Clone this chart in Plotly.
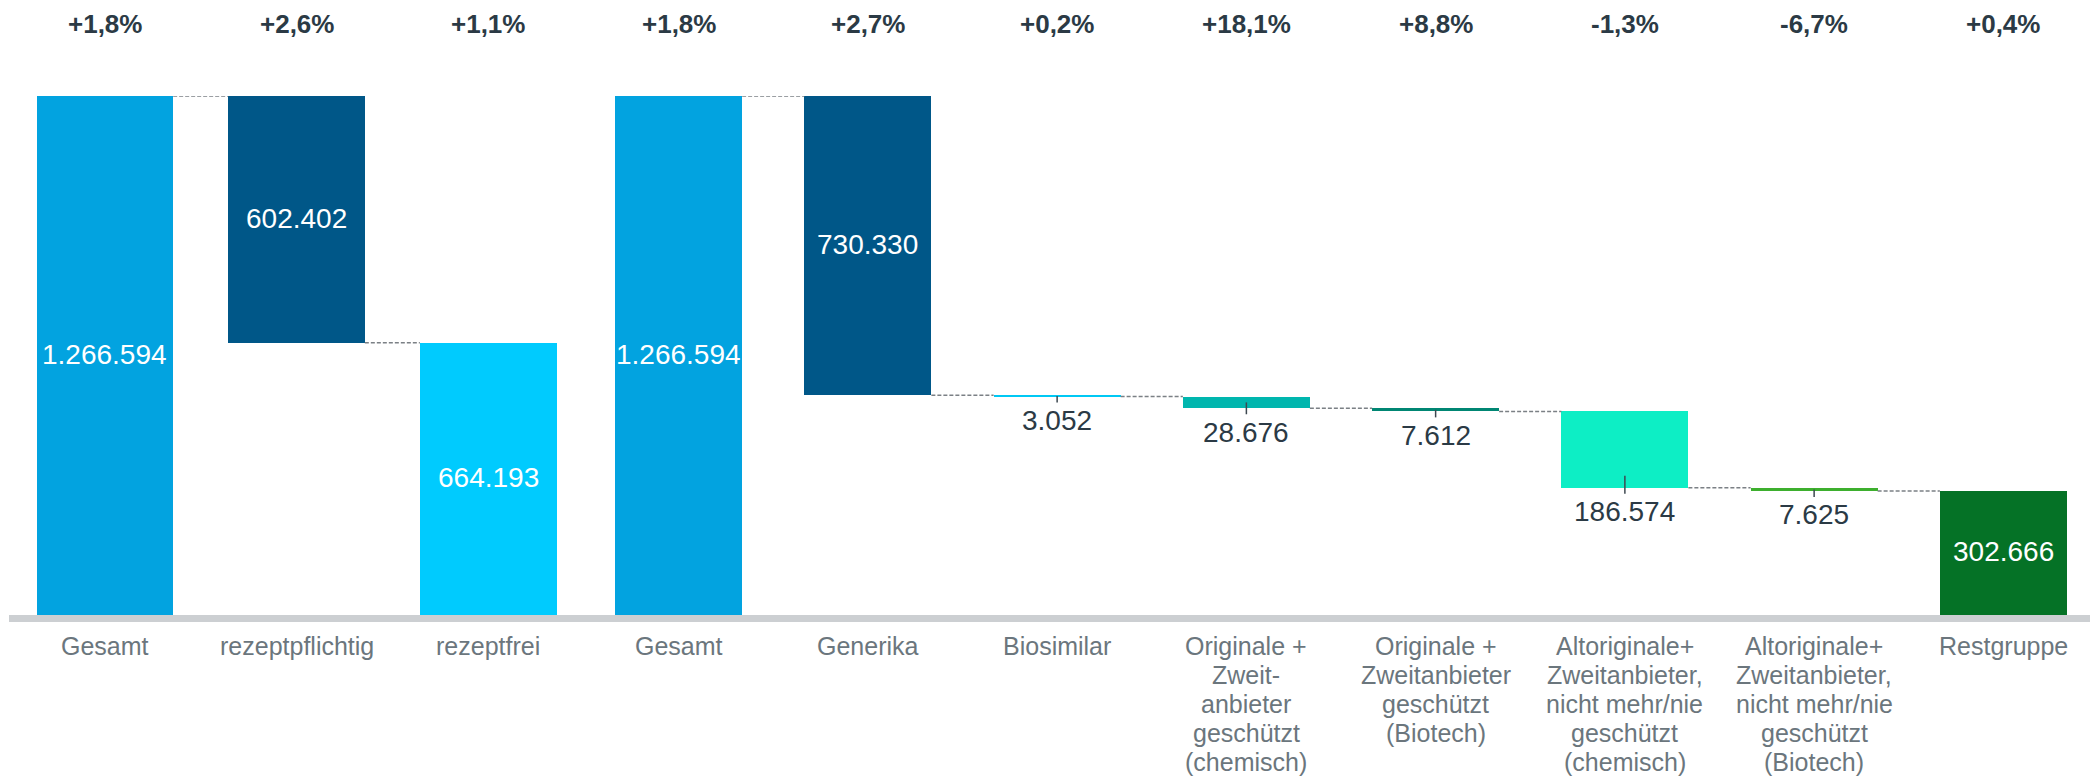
import plotly.graph_objects as go

# ---------------- data ----------------
left_categories = ["Gesamt", "rezeptpflichtig", "rezeptfrei"]
left_values = [1266594, 602402, 664193]
left_growth = ["+1,8%", "+2,6%", "+1,1%"]
left_kinds = ["total", "drop", "total"]

right_categories = [
    "Gesamt",
    "Generika",
    "Biosimilar",
    "Originale +<br>Zweit-<br>anbieter<br>geschützt<br>(chemisch)",
    "Originale +<br>Zweitanbieter<br>geschützt<br>(Biotech)",
    "Altoriginale+<br>Zweitanbieter,<br>nicht mehr/nie<br>geschützt<br>(chemisch)",
    "Altoriginale+<br>Zweitanbieter,<br>nicht mehr/nie<br>geschützt<br>(Biotech)",
    "Restgruppe",
]
right_values = [1266594, 730330, 3052, 28676, 7612, 186574, 7625, 302666]
right_growth = ["+1,8%", "+2,7%", "+0,2%", "+18,1%", "+8,8%", "-1,3%", "-6,7%", "+0,4%"]
right_kinds = ["total", "drop", "drop", "drop", "drop", "drop", "drop", "total"]

# ---------------- style ----------------
left_colors = ["#02A3E0", "#005788", "#00CBFE"]
right_colors = ["#02A3E0", "#005788", "#00C8F4", "#00B6AE", "#008673",
                "#0DEEC5", "#3DAF2E", "#057226"]
FONT = "Arial, Liberation Sans, sans-serif"
DARK = "#2B3A45"
GRAY = "#6B767D"
AXIS = "#CCCFD2"
# page has an 8px body margin, so the figure is drawn slightly smaller
W, H = 2090, 773
ML, MR, MT, MB = 1, 0, 88, 166
PLOT_W = W - ML - MR
PLOT_H = H - MT - MB
LEFT_FRAC = 575 / PLOT_W
YMAX = max(left_values + right_values)
PPU = PLOT_H / YMAX
INSIDE_MIN = 250000


def compute_bases(values, kinds):
    bases = []
    level = 0
    for v, k in zip(values, kinds):
        if k == "total":
            b = 0
            level = v
        else:
            b = level - v
            level = b
        bases.append(b)
    return bases


fig = go.Figure()
shapes = []
annotations = []


def add_group(cats, values, kinds, growth, colors, width, xref):
    bases = compute_bases(values, kinds)
    idx = list(range(len(cats)))
    fig.add_trace(go.Bar(
        x=idx, y=values, base=bases, width=width,
        marker=dict(color=colors, line=dict(width=0)),
        xaxis=xref, yaxis="y", hoverinfo="skip", showlegend=False,
    ))
    # dashed connectors
    for i in range(len(cats) - 1):
        nxt_top = bases[i + 1] + values[i + 1]
        if kinds[i + 1] == "drop" or i + 1 == len(cats) - 1:
            shapes.append(dict(type="line", xref=xref, yref="y",
                               x0=i + width / 2, x1=i + 1 - width / 2,
                               y0=nxt_top, y1=nxt_top,
                               line=dict(color="#7B8085", width=1.5, dash="4px,2px")))
    for i, c in enumerate(cats):
        v, b = values[i], bases[i]
        txt = f"{v:,}".replace(",", ".")
        if v >= INSIDE_MIN:
            annotations.append(dict(x=i, y=b + v / 2, xref=xref, yref="y", text=txt,
                                    showarrow=False, yanchor="middle", yshift=1,
                                    font=dict(family=FONT, size=28, color="white")))
        else:
            annotations.append(dict(x=i, y=b, xref=xref, yref="y", text=txt,
                                    showarrow=False, yanchor="middle", yshift=-24,
                                    font=dict(family=FONT, size=28, color=DARK)))
            shapes.append(dict(type="line", xref=xref, yref="y", x0=i, x1=i,
                               ysizemode="pixel", yanchor=b,
                               y0=-6, y1=min(v * PPU / 2, 12),
                               line=dict(color="#3D4850", width=1.5)))
        # growth label
        annotations.append(dict(x=i, y=1, xref=xref, yref="paper", text=f"<b>{growth[i]}</b>",
                                showarrow=False, yanchor="middle", yshift=72,
                                font=dict(family=FONT, size=26, color=DARK)))
        # category label lines
        for k, line in enumerate(c.split("<br>")):
            annotations.append(dict(x=i, y=0, xref=xref, yref="paper", text=line,
                                    showarrow=False, yanchor="middle", yshift=-31 - 29 * k,
                                    font=dict(family=FONT, size=25, color=GRAY)))


add_group(left_categories, left_values, left_kinds, left_growth, left_colors, 0.713, "x")
add_group(right_categories, right_values, right_kinds, right_growth, right_colors, 0.671, "x2")

axis_common = dict(showline=True, linecolor=AXIS, linewidth=7, showticklabels=False,
                   showgrid=False, zeroline=False, ticks="", fixedrange=True)
fig.update_layout(
    width=W, height=H,
    margin=dict(l=ML, r=MR, t=MT, b=MB),
    paper_bgcolor="white", plot_bgcolor="white",
    xaxis=dict(domain=[0, LEFT_FRAC], range=[-0.5, len(left_categories) - 0.5], anchor="y", **axis_common),
    xaxis2=dict(domain=[LEFT_FRAC, 1], range=[-0.5, len(right_categories) - 0.5], anchor="y", **axis_common),
    yaxis=dict(range=[0, YMAX], visible=False, fixedrange=True),
    shapes=shapes, annotations=annotations, bargap=0,
    font=dict(family=FONT),
)

fig.write_html("out.html")
